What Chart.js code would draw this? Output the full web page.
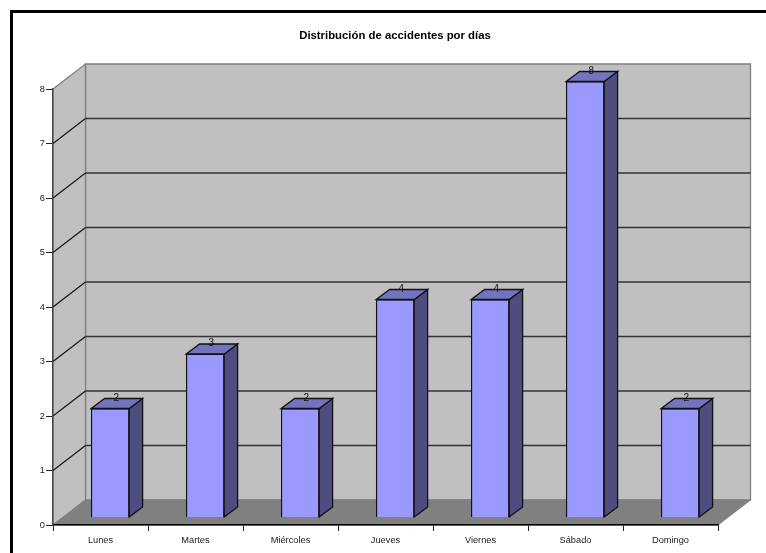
<!DOCTYPE html>
<html>
<head>
<meta charset="utf-8">
<script src="https://cdn.jsdelivr.net/npm/chart.js@4"></script>
<style>
  html, body { margin: 0; padding: 0; background: #fff; overflow: hidden; }
  #frame { position: absolute; left: 10px; top: 10px; width: 800px; height: 600px; border: 3px solid #000; box-sizing: border-box; }
  #holder { position: absolute; left: 0; top: 0; width: 790px; height: 553px; }
</style>
</head>
<body>
<div id="frame"></div>
<div id="holder"><canvas id="chart1"></canvas></div>
<script>
var titleText = 'Distribución de accidentes por días';
var categories = ['Lunes', 'Martes', 'Miércoles', 'Jueves', 'Viernes', 'Sábado', 'Domingo'];
var accidents = [2, 3, 2, 4, 4, 8, 2];
var yTicks = [0, 1, 2, 3, 4, 5, 6, 7, 8];

// depth of the fake 3d box, and how far the bars sit inside it
var wallDx = 32.5, wallDy = 25;
var barDx = 9.7, barDy = 7.5;
var sideDx = 13.4, sideDy = 10;

function poly(ctx, pts, fill, stroke, width) {
  ctx.beginPath();
  pts.forEach((p, i) => i ? ctx.lineTo(p[0], p[1]) : ctx.moveTo(p[0], p[1]));
  ctx.closePath();
  if (fill) { ctx.fillStyle = fill; ctx.fill(); }
  if (stroke) { ctx.strokeStyle = stroke; ctx.lineWidth = width || 1; ctx.stroke(); }
}

function line(ctx, x1, y1, x2, y2, color, width) {
  ctx.beginPath();
  ctx.moveTo(x1, y1);
  ctx.lineTo(x2, y2);
  ctx.strokeStyle = color;
  ctx.lineWidth = width || 1;
  ctx.stroke();
}

var box3d = {
  id: 'box3d',
  beforeDraw(chart) {
    var ctx = chart.ctx, a = chart.chartArea;
    var l = a.left, r = a.right, t = a.top, b = a.bottom;
    ctx.save();
    poly(ctx, [[l + wallDx, t - wallDy], [r + wallDx, t - wallDy], [r + wallDx, b - wallDy], [l + wallDx, b - wallDy]], '#c0c0c0', '#808080', 1.3);
    poly(ctx, [[l, t], [l + wallDx, t - wallDy], [l + wallDx, b - wallDy], [l, b]], '#c0c0c0', '#808080', 1.3);
    poly(ctx, [[l, b], [l + wallDx, b - wallDy], [r + wallDx, b - wallDy], [r, b]], '#808080', '#808080');
    yTicks.forEach(v => {
      if (v === 0 || v === yTicks[yTicks.length - 1]) return;
      var y = chart.scales.y.getPixelForValue(v);
      line(ctx, l, y, l + wallDx, y - wallDy, '#111', 1.1);
      line(ctx, l + wallDx, y - wallDy, r + wallDx, y - wallDy, '#333', 1.3);
    });
    ctx.restore();
  },
  beforeDatasetsDraw(chart) {
    chart.ctx.save();
    chart.ctx.translate(barDx, -barDy);
  },
  afterDatasetsDraw(chart) {
    var ctx = chart.ctx;
    chart.getDatasetMeta(0).data.forEach((bar, i) => {
      var x1 = bar.x - bar.width / 2, x2 = bar.x + bar.width / 2;
      poly(ctx, [[x2, bar.y], [x2 + sideDx, bar.y - sideDy], [x2 + sideDx, bar.base - sideDy], [x2, bar.base]], '#4d4d80', '#111', 1.3);
      poly(ctx, [[x1, bar.y], [x1 + sideDx, bar.y - sideDy], [x2 + sideDx, bar.y - sideDy], [x2, bar.y]], '#7373bf', '#111', 1.3);
      ctx.fillStyle = '#111';
      ctx.font = '10px "Liberation Sans"';
      ctx.textAlign = 'center';
      ctx.textBaseline = 'middle';
      ctx.fillText(accidents[i], bar.x + 6, bar.y - 10.5);
    });
    ctx.restore();
  }
};

var ctx = document.getElementById('chart1').getContext('2d');
var chart = new Chart(ctx, {
  type: 'bar',
  data: {
    labels: categories,
    datasets: [{
      data: accidents,
      backgroundColor: '#9999ff',
      borderColor: '#111',
      borderWidth: 1.3,
      barThickness: 38,
      clip: false
    }]
  },
  options: {
    responsive: true,
    maintainAspectRatio: false,
    animation: false,
    plugins: {
      legend: { display: false },
      tooltip: { enabled: false },
      title: {
        display: true,
        text: titleText,
        color: '#000',
        font: { family: '"Liberation Sans"', size: 11.35, weight: 'bold', lineHeight: 1.2 },
        padding: { top: 29, bottom: 46.4 }
      }
    },
    scales: {
      x: {
        afterFit: s => { s.height = 28; },
        border: { color: '#000', width: 1.4 },
        grid: { drawOnChartArea: false, drawTicks: true, tickLength: 6, tickColor: '#222' },
        ticks: { color: '#222', padding: 4, maxRotation: 0, font: { family: '"Liberation Sans"', size: 9.25 } }
      },
      y: {
        min: 0,
        max: 8,
        afterFit: s => { s.width = 53; },
        border: { color: '#444', width: 1.4 },
        grid: { drawOnChartArea: false, drawTicks: true, tickLength: 7, tickColor: '#222' },
        ticks: { color: '#222', padding: 1, stepSize: 1, font: { family: '"Liberation Sans"', size: 9.25 } }
      },
      // empty axis, only keeps the plot short of the right edge so the title centres on the full canvas
      spacer: {
        position: 'right',
        afterFit: s => { s.width = 72; },
        border: { display: false },
        grid: { display: false },
        ticks: { display: false }
      }
    }
  },
  plugins: [box3d]
});
</script>
</body>
</html>
